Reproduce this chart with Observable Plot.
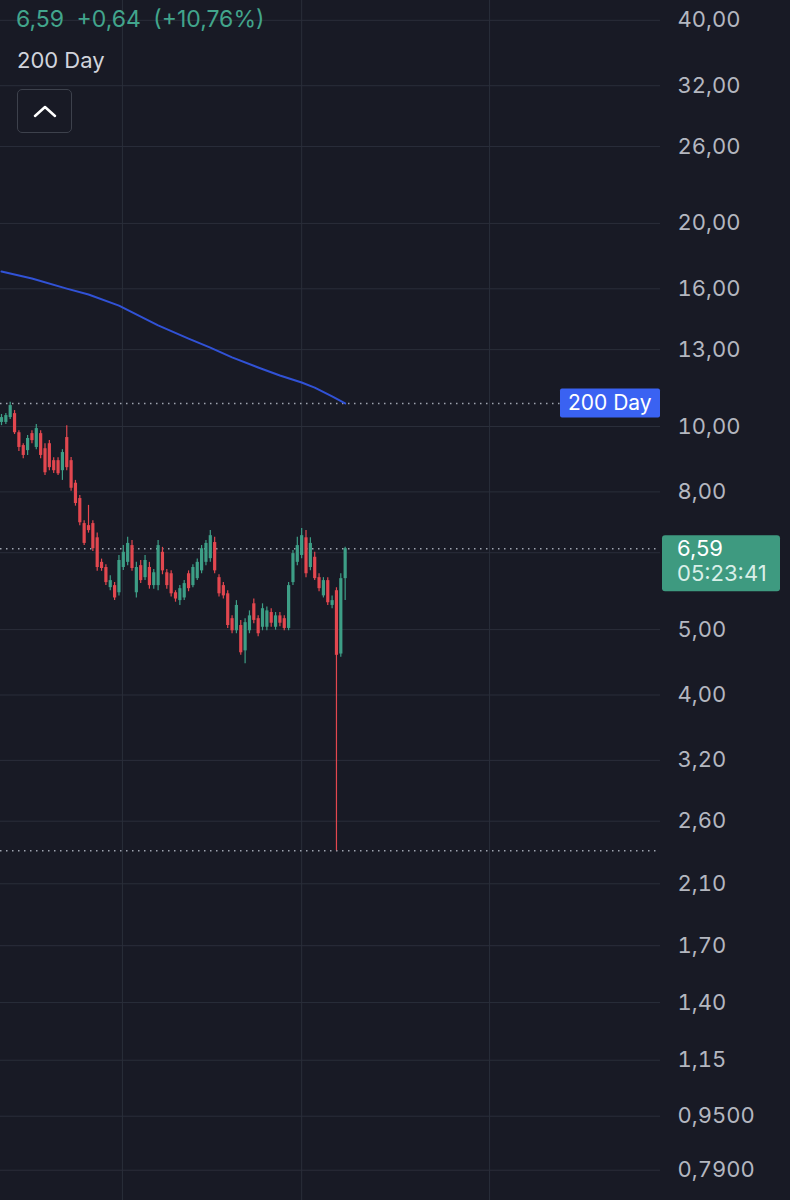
<!DOCTYPE html>
<html>
<head>
<meta charset="utf-8">
<script src="https://cdn.jsdelivr.net/npm/d3@7"></script>
<script src="https://cdn.jsdelivr.net/npm/@observablehq/plot@0.6"></script>
<style>
  html, body { margin: 0; padding: 0; background: #181a25; }
  #wrap { position: relative; width: 790px; height: 1200px; overflow: hidden;
          font-family: Inter, "Noto Sans", Roboto, sans-serif; }
  #chart svg { display: block; }
  .legend { position: absolute; left: 16px; top: 5px; font-size: 23px; line-height: 28px;
            color: #42a58c; white-space: pre; word-spacing: 6px; }
  .ma { position: absolute; left: 17px; top: 46px; font-size: 22px; line-height: 28px; color: #d1d4dc; }
  .btn { position: absolute; left: 17px; top: 89px; width: 55px; height: 44px; box-sizing: border-box;
         border: 1.5px solid #3d414c; border-radius: 5px; }
  .btn svg { position: absolute; left: 0; top: 0; }
</style>
</head>
<body>
<div id="wrap">
  <div id="chart"></div>
  <div class="legend" id="legend"></div>
  <div class="ma" id="maName"></div>
  <div class="btn"><svg width="55" height="44"><polyline points="17,26 27,17 37,26" fill="none" stroke="#ffffff" stroke-width="2.5" stroke-linecap="round" stroke-linejoin="round"/></svg></div>
</div>
<script>
// ---- Data ----
const opens  = [10.14,10.14,10.31,10.45,9.79,9.37,9.21,9.76,9.31,9.76,9.27,9.43,8.90,8.90,8.60,9.63,8.90,8.24,7.82,7.18,
                7.13,7.18,6.84,6.29,6.18,5.77,5.81,5.67,6.18,6.29,6.66,5.67,6.22,5.97,6.18,5.81,5.81,6.51,6.07,6.05,
                5.67,5.52,5.57,6.05,5.81,5.95,6.11,6.29,6.37,6.73,5.97,5.81,5.65,5.19,4.98,5.07,4.65,4.98,5.46,5.19,
                5.04,5.04,5.30,5.04,5.24,5.19,5.02,5.87,6.29,6.44,6.84,6.18,6.40,5.97,5.61,5.91,5.43,5.71,4.60,5.95];
const highs  = [10.42,10.45,10.86,10.56,9.86,9.43,9.70,9.86,10.07,9.86,9.43,9.53,8.99,8.99,9.24,10.03,9.00,8.32,7.90,7.25,
                7.64,7.25,6.95,6.36,6.24,6.01,5.87,6.44,6.66,6.85,6.78,6.29,6.33,6.44,6.29,6.14,6.78,6.62,6.14,6.11,
                5.71,5.81,5.91,6.11,6.24,6.36,6.66,6.78,7.01,6.85,6.03,5.87,5.71,5.24,5.52,5.16,5.19,5.33,5.55,5.24,
                5.46,5.40,5.37,5.30,5.30,5.24,5.87,6.55,6.85,7.06,7.01,6.84,6.51,6.05,5.97,5.97,5.61,5.77,6.05,6.62];
const lows   = [10.03,10.07,10.24,9.73,9.18,8.96,9.06,9.43,9.24,8.96,8.46,8.60,8.52,8.46,8.32,8.60,8.02,7.62,7.13,6.66,
                6.95,6.53,6.10,6.10,5.81,5.71,5.52,5.61,6.12,6.22,6.10,5.57,5.85,5.91,5.74,5.74,5.71,6.03,5.74,5.59,
                5.49,5.43,5.52,5.69,5.77,5.91,6.05,6.22,6.29,6.05,5.59,5.55,5.02,4.93,4.93,4.58,4.45,4.93,5.10,4.88,
                4.98,4.98,5.04,4.99,5.05,4.98,4.98,5.81,6.22,6.37,5.97,6.11,5.91,5.69,5.57,5.43,5.37,2.35,4.55,5.52];
const closes = [10.31,10.38,10.74,9.79,9.31,9.06,9.60,9.53,9.93,9.06,8.54,8.69,8.60,8.51,9.15,8.69,8.10,7.69,7.20,6.71,
                7.01,6.59,6.18,6.16,5.87,5.91,5.57,6.33,6.51,6.71,6.16,6.18,5.91,6.33,5.81,6.07,6.66,6.11,5.81,5.65,
                5.55,5.75,5.85,5.75,6.18,6.29,6.59,6.71,6.89,6.11,5.65,5.61,5.07,4.98,5.43,4.62,5.12,5.24,5.16,4.93,
                5.37,5.33,5.11,5.24,5.11,5.02,5.81,6.48,6.66,6.89,6.05,6.71,5.95,5.75,5.91,5.48,5.52,4.58,5.95,6.59];

// 200-day moving average (bar index, value)
const maIndex = [0, 7, 15, 20, 27, 36, 43, 48, 53, 59, 64, 69, 72, 76, 79];
const maValue = [16.97, 16.57, 16.01, 15.69, 15.11, 14.12, 13.50, 13.09, 12.66, 12.23, 11.90, 11.62, 11.42, 11.08, 10.82];

// Axis ticks (6.50 has a grid line, its label is hidden by the price label)
const yTicks  = [40, 32, 26, 20, 16, 13, 10, 8, 5, 4, 3.2, 2.6, 2.1, 1.7, 1.4, 1.15, 0.95, 0.79];
const yLabels = ["40,00","32,00","26,00","20,00","16,00","13,00","10,00","8,00","5,00","4,00",
                 "3,20","2,60","2,10","1,70","1,40","1,15","0,9500","0,7900"];
const yGridExtra = [6.5];
const xGrid   = [27.8, 69, 112.2];

// Texts
const legendText = ["6,59", "+0,64", "(+10,76%)"];
const maName = "200 Day";
const countdown = "05:23:41";
const lastPriceLabel = "6,59";

// ---- Build ----
const UP = "#3d9e86", DOWN = "#e2474f";
const candles = opens.map((o, k) => ({i: k, o, h: highs[k], l: lows[k], c: closes[k]}));
const ma = maIndex.map((i, k) => ({i, v: maValue[k]}));
const labelOf = new Map(yTicks.map((t, k) => [t, yLabels[k]]));
const lastClose = closes[closes.length - 1];
const minLow = d3.min(lows);
const maLast = maValue[maValue.length - 1];
const colorOf = d => d.c >= d.o ? UP : DOWN;

const chart = Plot.plot({
  width: 790,
  height: 1200,
  marginLeft: 0,
  marginRight: 130,
  marginTop: 0,
  marginBottom: 0,
  style: {background: "transparent", fontFamily: "Inter, 'Noto Sans', sans-serif", fontSize: "22px"},
  x: {domain: [-0.23, 151.49], axis: null},
  y: {type: "log", domain: [0.7125, 42.8], axis: null},
  marks: [
    Plot.ruleX(xGrid, {stroke: "#2a2e3a", strokeWidth: 1}),
    Plot.ruleY(yTicks.concat(yGridExtra), {stroke: "#2a2e3a", strokeWidth: 1}),
    Plot.axisY(yTicks, {anchor: "right", tickSize: 0, tickPadding: 17, tickFormat: d => labelOf.get(d),
                        fill: "#b4b7c0", fontSize: 22, textAnchor: "start"}),
    Plot.ruleY([maLast, lastClose, minLow], {stroke: "#9ea4b0", strokeWidth: 1.5, strokeDasharray: "1.5,4.5"}),
    Plot.line(ma, {x: "i", y: "v", stroke: "#3152d6", strokeWidth: 2}),
    Plot.ruleX(candles, {x: "i", y1: "l", y2: "h", stroke: colorOf, strokeWidth: 1.2}),
    Plot.ruleX(candles, {x: "i", y1: "o", y2: "c", stroke: colorOf, strokeWidth: 3.2})
  ]
});

document.getElementById("chart").appendChild(chart);

// Price labels positioned through the plot's own y scale
const sy = chart.scale("y");
const svg = d3.select(chart);
const yMa = sy.apply(maLast);
svg.append("rect").attr("x", 560).attr("y", yMa - 14.5).attr("width", 100).attr("height", 29)
   .attr("rx", 2).attr("fill", "#3a62f2");
svg.append("text").attr("x", 568).attr("y", yMa + 1).attr("dominant-baseline", "middle")
   .attr("text-anchor", "start").attr("fill", "#ffffff").attr("font-size", 21).text(maName);

const yP = sy.apply(lastClose);
svg.append("rect").attr("x", 662).attr("y", yP - 13).attr("width", 118).attr("height", 56)
   .attr("rx", 3).attr("fill", "#3e9a80");
svg.append("text").attr("x", 677).attr("y", yP + 2).attr("dominant-baseline", "middle")
   .attr("text-anchor", "start").attr("fill", "#ffffff").attr("font-size", 22).text(lastPriceLabel);
svg.append("text").attr("x", 677).attr("y", yP + 27).attr("dominant-baseline", "middle")
   .attr("text-anchor", "start").attr("fill", "#d8efe8").attr("font-size", 22).text(countdown);

document.getElementById("legend").textContent = legendText.join(" ");
document.getElementById("maName").textContent = maName;
</script>
</body>
</html>
